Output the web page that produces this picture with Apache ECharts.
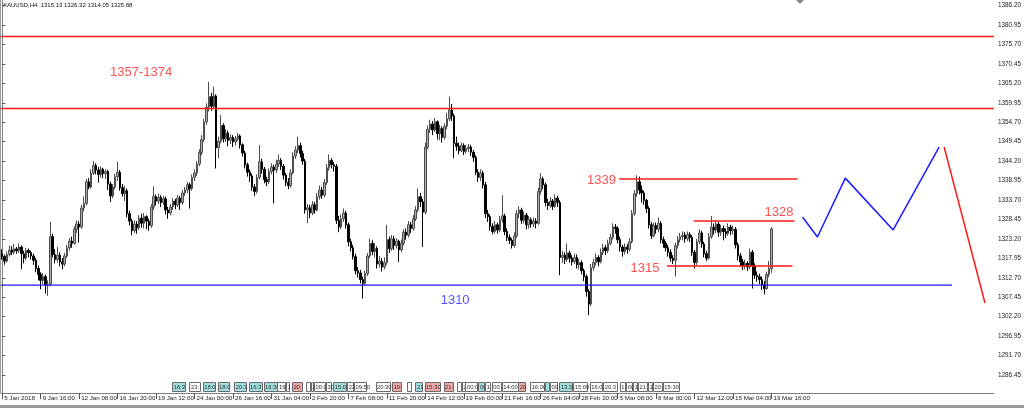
<!DOCTYPE html>
<html><head><meta charset="utf-8">
<script src="https://cdn.jsdelivr.net/npm/echarts@6/dist/echarts.min.js"></script>
<style>html,body{margin:0;padding:0;background:#fff;}#c{width:1024px;height:408px;}</style>
</head><body><div id="c"></div>
<script>
const tickLabels = ['5 Jan 2018','9 Jan 16:00','12 Jan 08:00','16 Jan 20:00','19 Jan 12:00','24 Jan 00:00','26 Jan 16:00','31 Jan 04:00','2 Feb 20:00','7 Feb 08:00','11 Feb 20:00','14 Feb 12:00','19 Feb 00:00','21 Feb 16:00','26 Feb 04:00','28 Feb 20:00','5 Mar 08:00','8 Mar 00:00','12 Mar 12:00','15 Mar 04:00','19 Mar 16:00'];
const yTicks = [1286.45,1291.70,1296.95,1302.20,1307.45,1312.70,1317.95,1323.20,1328.45,1333.70,1338.95,1344.20,1349.45,1354.70,1359.95,1365.20,1370.45,1375.70,1380.95,1386.20];
const closes = [1318.5,1317.2,1319.0,1320.2,1319.6,1320.5,1320.0,1321.0,1319.2,1318.0,
1320.1,1319.5,1318.6,1317.4,1315.2,1313.6,1312.0,1313.0,1310.8,1311.0,
1323.8,1319.0,1317.6,1318.8,1317.0,1316.4,1318.6,1320.8,1322.6,1322.0,
1325.8,1327.2,1326.4,1331.5,1332.8,1338.6,1337.2,1341.0,1343.0,1341.8,
1340.6,1342.0,1340.8,1341.4,1338.0,1334.8,1337.2,1340.0,1341.2,1337.0,
1335.4,1336.2,1330.0,1328.0,1325.4,1327.2,1326.2,1328.8,1327.4,1329.2,
1328.0,1326.8,1331.8,1334.6,1333.4,1334.4,1333.0,1334.0,1331.0,1330.2,
1331.8,1333.4,1332.4,1334.2,1333.0,1335.6,1336.4,1337.8,1336.8,1339.8,
1341.0,1343.4,1346.5,1350.0,1354.8,1358.8,1361.6,1359.0,1361.8,1347.8,
1349.6,1353.8,1350.2,1351.8,1349.8,1350.6,1349.4,1350.2,1351.0,1348.6,
1346.4,1343.2,1341.2,1340.2,1337.2,1336.0,1339.8,1344.0,1342.0,1339.2,
1338.6,1341.4,1342.6,1341.8,1343.4,1344.4,1342.8,1340.4,1338.4,1337.6,
1341.0,1345.6,1347.2,1348.4,1346.2,1344.2,1331.0,1331.6,1330.2,1332.4,
1331.0,1334.6,1336.4,1335.0,1338.4,1342.4,1344.4,1343.2,1342.8,1328.2,
1326.4,1328.6,1330.2,1327.0,1322.4,1320.8,1318.4,1314.6,1314.0,1312.2,
1311.2,1313.8,1318.6,1322.0,1319.8,1320.6,1316.4,1317.2,1315.6,1316.8,
1323.0,1320.6,1323.2,1321.4,1322.6,1320.2,1322.0,1325.0,1324.2,1327.0,
1326.0,1328.6,1331.0,1334.6,1333.2,1330.4,1348.0,1352.8,1354.2,1352.6,
1354.8,1351.6,1353.0,1350.6,1353.6,1355.6,1358.0,1356.4,1349.0,1348.2,
1347.0,1348.4,1346.8,1347.6,1348.0,1346.6,1345.2,1341.2,1339.8,1341.0,
1337.8,1330.0,1329.2,1326.6,1325.2,1327.0,1325.6,1328.4,1329.4,1325.2,
1323.6,1322.8,1321.4,1324.0,1330.0,1331.0,1328.2,1329.6,1327.0,1328.4,
1327.2,1328.0,1327.4,1336.0,1339.4,1337.8,1333.0,1332.2,1333.4,1332.0,
1334.2,1333.0,1318.2,1318.8,1317.6,1319.4,1318.0,1317.0,1318.2,1316.2,
1316.8,1314.6,1313.0,1309.0,1305.6,1315.4,1316.8,1318.2,1317.0,1319.6,
1320.8,1320.0,1322.0,1323.6,1326.4,1326.0,1323.0,1321.0,1319.8,1321.0,
1320.4,1322.4,1330.0,1335.4,1338.6,1336.4,1335.6,1333.6,1331.4,1327.0,
1324.0,1326.8,1325.8,1327.4,1323.0,1322.0,1320.8,1319.6,1318.0,1317.4,
1321.4,1323.0,1323.8,1324.2,1323.2,1324.4,1323.6,1319.6,1316.8,1322.4,
1324.8,1321.8,1319.2,1318.0,1323.8,1326.4,1325.6,1327.2,1325.0,1326.0,
1325.2,1324.6,1326.4,1325.4,1325.8,1321.6,1318.6,1317.0,1316.0,1316.6,
1315.6,1319.6,1316.0,1313.4,1313.0,1312.2,1310.8,1309.8,1313.6,1315.2,
1325.88];
const opens = [1319.2,1318.5,1317.2,1319.0,1320.2,1319.6,1320.5,1320.0,1321.0,1319.2,
1318.0,1320.1,1319.5,1318.6,1317.4,1315.2,1313.6,1312.0,1313.0,1310.8,
1311.0,1323.8,1319.0,1317.6,1318.8,1317.0,1316.4,1318.6,1320.8,1322.6,
1322.0,1325.8,1327.2,1326.4,1331.5,1332.8,1338.6,1337.2,1341.0,1343.0,
1341.8,1340.6,1342.0,1340.8,1341.4,1338.0,1334.8,1337.2,1340.0,1341.2,
1337.0,1335.4,1336.2,1330.0,1328.0,1325.4,1327.2,1326.2,1328.8,1327.4,
1329.2,1328.0,1326.8,1331.8,1334.6,1333.4,1334.4,1333.0,1334.0,1331.0,
1330.2,1331.8,1333.4,1332.4,1334.2,1333.0,1335.6,1336.4,1337.8,1336.8,
1339.8,1341.0,1343.4,1346.5,1350.0,1354.8,1358.8,1361.6,1359.0,1361.8,
1347.8,1349.6,1353.8,1350.2,1351.8,1349.8,1350.6,1349.4,1350.2,1351.0,
1348.6,1346.4,1343.2,1341.2,1340.2,1337.2,1336.0,1339.8,1344.0,1342.0,
1339.2,1338.6,1341.4,1342.6,1341.8,1343.4,1344.4,1342.8,1340.4,1338.4,
1337.6,1341.0,1345.6,1347.2,1348.4,1346.2,1344.2,1331.0,1331.6,1330.2,
1332.4,1331.0,1334.6,1336.4,1335.0,1338.4,1342.4,1344.4,1343.2,1342.8,
1328.2,1326.4,1328.6,1330.2,1327.0,1322.4,1320.8,1318.4,1314.6,1314.0,
1312.2,1311.2,1313.8,1318.6,1322.0,1319.8,1320.6,1316.4,1317.2,1315.6,
1316.8,1323.0,1320.6,1323.2,1321.4,1322.6,1320.2,1322.0,1325.0,1324.2,
1327.0,1326.0,1328.6,1331.0,1334.6,1333.2,1330.4,1348.0,1352.8,1354.2,
1352.6,1354.8,1351.6,1353.0,1350.6,1353.6,1355.6,1358.0,1356.4,1349.0,
1348.2,1347.0,1348.4,1346.8,1347.6,1348.0,1346.6,1345.2,1341.2,1339.8,
1341.0,1337.8,1330.0,1329.2,1326.6,1325.2,1327.0,1325.6,1328.4,1329.4,
1325.2,1323.6,1322.8,1321.4,1324.0,1330.0,1331.0,1328.2,1329.6,1327.0,
1328.4,1327.2,1328.0,1327.4,1336.0,1339.4,1337.8,1333.0,1332.2,1333.4,
1332.0,1334.2,1333.0,1318.2,1318.8,1317.6,1319.4,1318.0,1317.0,1318.2,
1316.2,1316.8,1314.6,1313.0,1309.0,1305.6,1315.4,1316.8,1318.2,1317.0,
1319.6,1320.8,1320.0,1322.0,1323.6,1326.4,1326.0,1323.0,1321.0,1319.8,
1321.0,1320.4,1322.4,1330.0,1335.4,1338.6,1336.4,1335.6,1333.6,1331.4,
1327.0,1324.0,1326.8,1325.8,1327.4,1323.0,1322.0,1320.8,1319.6,1318.0,
1317.4,1321.4,1323.0,1323.8,1324.2,1323.2,1324.4,1323.6,1319.6,1316.8,
1322.4,1324.8,1321.8,1319.2,1318.0,1323.8,1326.4,1325.6,1327.2,1325.0,
1326.0,1325.2,1324.6,1326.4,1325.4,1325.8,1321.6,1318.6,1317.0,1316.0,
1316.6,1315.6,1319.6,1316.0,1313.4,1313.0,1312.2,1310.8,1309.8,1313.6,
1315.13];
const lows = [1317.6,1316.2,1316.8,1318.4,1318.8,1319.0,1319.2,1319.4,1315.0,1316.6,
1317.4,1318.2,1317.6,1316.2,1314.2,1312.0,1309.6,1311.0,1308.4,1307.8,
1310.4,1318.2,1316.6,1316.8,1315.8,1315.0,1315.8,1318.0,1320.0,1320.8,
1321.6,1324.8,1322.2,1326.0,1330.6,1332.2,1336.6,1336.8,1340.4,1340.6,
1338.4,1339.8,1339.6,1339.4,1336.4,1333.2,1334.2,1336.6,1338.8,1336.2,
1334.6,1333.4,1329.0,1326.8,1324.2,1324.8,1324.6,1325.6,1326.2,1326.0,
1325.8,1325.4,1326.2,1331.0,1332.2,1332.6,1331.8,1332.4,1329.8,1328.6,
1329.6,1331.0,1331.2,1331.8,1331.0,1332.4,1334.8,1335.6,1331.4,1336.2,
1338.8,1340.2,1342.8,1345.8,1349.4,1354.0,1357.6,1357.8,1358.4,1342.2,
1345.0,1349.0,1349.2,1349.4,1348.2,1348.8,1348.0,1348.4,1349.6,1347.6,
1345.4,1342.2,1340.0,1338.6,1336.2,1334.8,1335.4,1339.2,1340.8,1338.2,
1337.4,1338.0,1340.6,1332.8,1341.0,1342.6,1341.8,1339.2,1337.4,1336.6,
1337.0,1340.6,1344.8,1346.4,1345.2,1343.2,1330.0,1327.4,1328.8,1329.6,
1330.0,1330.6,1333.8,1334.0,1334.4,1337.8,1341.6,1342.2,1341.4,1327.2,
1325.0,1325.8,1327.8,1326.0,1321.2,1319.8,1317.6,1313.6,1312.8,1311.2,
1307.1,1310.6,1313.2,1318.0,1318.8,1318.2,1315.2,1315.4,1314.4,1315.0,
1316.2,1319.4,1320.0,1320.2,1320.6,1317.0,1319.6,1321.4,1323.0,1323.6,
1324.8,1325.4,1328.0,1330.4,1331.8,1321.0,1329.8,1347.4,1351.8,1351.2,
1352.0,1350.0,1349.8,1349.2,1350.0,1352.8,1355.0,1355.0,1345.0,1347.0,
1346.0,1346.6,1345.8,1346.2,1346.6,1345.6,1344.0,1340.4,1338.6,1338.8,
1336.8,1328.8,1327.8,1325.4,1324.4,1324.6,1324.6,1325.0,1327.6,1324.2,
1322.6,1321.8,1320.6,1320.8,1323.4,1328.8,1327.2,1327.4,1325.8,1326.0,
1326.2,1326.4,1326.0,1327.0,1335.2,1336.6,1332.0,1331.0,1331.6,1331.0,
1331.6,1331.8,1313.4,1316.8,1316.4,1317.0,1316.8,1316.0,1316.4,1315.2,
1315.0,1313.6,1311.8,1307.6,1302.6,1305.0,1314.6,1316.0,1315.8,1316.6,
1318.8,1318.8,1319.4,1321.4,1323.0,1324.6,1322.0,1319.8,1318.4,1319.0,
1319.2,1319.8,1322.0,1329.4,1334.6,1335.2,1333.0,1332.4,1330.2,1326.0,
1323.2,1323.6,1324.6,1325.0,1322.0,1320.8,1319.8,1318.4,1317.0,1316.4,
1313.0,1320.6,1322.2,1322.8,1322.2,1322.6,1322.4,1318.6,1315.2,1316.2,
1321.8,1320.8,1318.2,1317.2,1317.6,1323.2,1324.4,1324.8,1323.8,1324.0,
1322.8,1323.4,1324.0,1324.2,1324.4,1320.6,1317.4,1315.8,1314.8,1315.0,
1314.6,1315.0,1309.8,1312.4,1311.6,1311.0,1309.4,1308.2,1309.4,1312.8,
1314.05];
const highs = [1320.4,1319.0,1319.8,1321.4,1321.2,1321.8,1321.0,1322.0,1321.4,1320.0,
1320.8,1320.6,1320.0,1319.2,1318.0,1316.0,1314.2,1314.0,1313.6,1312.0,
1327.8,1324.6,1320.4,1321.0,1319.6,1318.0,1319.4,1321.6,1323.4,1323.8,
1326.6,1328.2,1328.0,1332.4,1334.6,1339.4,1339.6,1342.0,1344.2,1343.6,
1342.6,1342.8,1342.4,1342.0,1341.8,1338.6,1338.0,1340.8,1344.0,1341.8,
1338.0,1337.6,1336.8,1330.8,1328.6,1328.2,1328.0,1329.6,1330.0,1330.2,
1329.6,1328.6,1332.6,1337.4,1335.2,1335.4,1335.0,1334.8,1334.6,1331.8,
1332.6,1334.2,1334.0,1335.0,1334.8,1336.4,1337.2,1338.6,1338.4,1340.6,
1342.0,1344.2,1347.4,1351.2,1355.6,1359.8,1365.6,1362.6,1364.3,1362.2,
1350.8,1356.6,1354.4,1352.8,1352.4,1351.4,1351.2,1351.0,1351.8,1351.4,
1349.0,1347.0,1343.8,1342.0,1340.8,1338.0,1340.6,1348.5,1344.8,1342.6,
1340.0,1342.2,1343.6,1343.2,1344.6,1346.0,1345.0,1343.4,1341.0,1339.6,
1342.0,1346.6,1348.2,1350.8,1349.2,1347.0,1344.8,1332.6,1332.4,1333.4,
1333.2,1335.6,1337.6,1337.2,1339.4,1343.4,1346.0,1345.0,1344.0,1343.4,
1329.4,1329.8,1331.4,1330.8,1327.6,1323.2,1321.6,1319.2,1315.6,1314.8,
1313.0,1314.6,1319.4,1323.2,1322.8,1322.0,1321.2,1318.6,1318.0,1318.2,
1327.0,1323.8,1324.2,1324.0,1323.4,1323.0,1323.0,1325.8,1326.0,1328.0,
1327.8,1329.6,1332.0,1336.8,1335.6,1334.0,1349.2,1353.8,1355.4,1355.0,
1355.8,1355.2,1354.0,1353.6,1354.4,1357.2,1361.6,1359.6,1357.0,1350.8,
1349.2,1349.2,1349.0,1348.6,1348.8,1348.6,1347.2,1345.8,1342.0,1342.0,
1341.6,1338.6,1331.0,1329.8,1327.4,1328.0,1327.6,1329.4,1335.0,1330.0,
1326.0,1324.4,1323.4,1325.0,1331.0,1332.0,1331.6,1330.6,1330.2,1329.4,
1329.0,1329.0,1328.8,1337.0,1341.0,1340.0,1338.4,1334.0,1334.4,1334.0,
1335.2,1334.8,1333.6,1320.0,1319.6,1322.0,1320.0,1318.8,1319.2,1319.0,
1317.8,1317.4,1315.2,1313.6,1309.6,1316.4,1317.8,1319.2,1318.8,1320.6,
1321.8,1321.6,1323.0,1324.6,1327.4,1327.2,1326.6,1323.8,1321.6,1322.0,
1321.8,1323.4,1331.0,1336.4,1340.4,1340.0,1337.6,1336.2,1334.0,1332.0,
1327.8,1327.6,1327.6,1329.0,1328.0,1323.8,1322.6,1321.6,1320.4,1318.8,
1322.2,1324.0,1324.8,1325.2,1325.0,1325.2,1325.0,1324.2,1320.2,1323.2,
1325.8,1325.4,1322.4,1320.0,1324.8,1329.4,1327.4,1328.2,1327.8,1327.0,
1326.8,1326.0,1327.4,1327.0,1326.8,1326.4,1322.2,1319.4,1317.8,1317.6,
1317.2,1320.6,1320.2,1316.6,1314.4,1313.8,1313.0,1311.8,1314.4,1317.2,
1326.32];
// drawn levels and annotations (bar index, price)
const levelsFull = [1377.97, 1358.6];
const supportLine = [[-0.5, 1310.7], [395.1, 1310.7]];
const line1339 = [[256.6, 1339.36], [330.8, 1339.36]];
const line1328 = [[287.7, 1328.03], [329.6, 1328.03]];
const line1315 = [[276.5, 1315.88], [328.7, 1315.88]];
const zigzagBlue = [[332.9, 1329.1], [339.1, 1323.7], [350.7, 1339.6], [370.6, 1325.6], [389.7, 1348.0]];
const zigzagRed = [[391.8, 1348.0], [408.8, 1305.9]];
const redTexts = [[57.8, 1368.25, '1357-1374'], [249.3, 1339.1, '1339'], [323.1, 1330.45, '1328'], [267.4, 1315.3, '1315']];
const blueTexts = [[188.4, 1306.7, '1310']];
const events = [
 [70.7,76.5,'16:3','c'],[77.9,82.7,'23:','w'],[83.4,88.9,'18:0','c'],[89.6,94.7,'18:0','c'],[96.5,102.0,'20:3','c'],
 [102.5,108.3,'16:3','c'],[108.7,114.5,'16:30','c'],[114.5,118.2,'19:0','w'],[118.2,120.0,'1','w'],[120.5,124.9,'20:','p'],
 [126.3,128.3,'','w'],[128.3,129.7,'2','w'],[129.7,134.7,'00:00','w'],[134.7,137.3,'30','w'],[137.7,143.5,'15:01','c'],
 [143.5,146.3,'22','w'],[146.3,151.8,'09:50','w'],[155.3,161.5,'20:30','w'],[162.2,166.3,'19:','p'],[168.4,170.5,'','w'],
 [171.9,175.3,'21:','c'],[175.7,182.2,'15:30','p'],[183.6,187.7,'21:','p'],[189.1,191.2,'','w'],[191.2,192.7,'2','w'],
 [192.7,198.1,'00:00','w'],[198.1,200.9,'00','c'],[200.9,203.6,'1','w'],[203.6,207.8,'00','w'],[207.8,214.7,'14:00','w'],
 [214.7,218.0,'20:','p'],[219.6,225.8,'16:00','w'],[225.8,227.9,'','c'],[227.9,231.3,'00','w'],[231.7,237.5,'13:30','c'],
 [237.5,243.7,'15:00','w'],[244.4,250.0,'16:00','w'],[250.0,256.2,'20:3','w'],[256.9,259.6,'1','w'],[259.6,262.4,'00','w'],
 [262.4,264.5,'1','w'],[264.5,268.6,'21:','w'],[268.6,270.7,'1','w'],[270.7,274.8,'20:','w'],[274.8,281.8,'15:30','w']
];

const N = 413;
const cats = [];
for (let i = 0; i < N; i++) cats.push(String(i));
const labelAt = {};
const tickIdx = [];
tickLabels.forEach((t, k) => { labelAt[k * 16] = t; tickIdx.push(k * 16); });
const candles = closes.map((c, i) => [opens[i], c, lows[i], highs[i]]);
const FONT = 'Liberation Sans';
const evFill = { c: '#9fdede', w: '#ffffff', p: '#f2a6a6' };

const chart = echarts.init(document.getElementById('c'), null, { renderer: 'canvas' });
chart.setOption({
  animation: false,
  backgroundColor: '#ffffff',
  grid: { left: 1, right: 27, top: 0, bottom: 15, containLabel: false },
  xAxis: [
    { type: 'category', data: cats, boundaryGap: true,
      axisLine: { show: true, lineStyle: { color: '#808080', width: 1 } },
      axisTick: { show: false }, axisLabel: { show: false }, splitLine: { show: false } },
    { type: 'value', min: -0.5, max: N - 0.5, position: 'bottom',
      axisLine: { show: false },
      axisTick: { show: true, length: 6, customValues: tickIdx, lineStyle: { color: '#555' } },
      axisLabel: { show: true, customValues: tickIdx, formatter: (v) => labelAt[Math.round(v)] || '',
        align: 'left', padding: [0, 0, 0, 2], margin: 2, fontSize: 6.2, color: '#222', fontFamily: FONT },
      splitLine: { show: false } }
  ],
  yAxis: { type: 'value', position: 'right', min: 1281.59, max: 1387.69, scale: true,
    axisLine: { show: true, lineStyle: { color: '#808080' } },
    axisTick: { show: true, length: 3, customValues: yTicks, lineStyle: { color: '#555' } },
    axisLabel: { show: true, customValues: yTicks, formatter: (v) => v.toFixed(2), fontSize: 6.4, color: '#222', margin: 4, fontFamily: FONT },
    splitLine: { show: false } },
  series: [
    { type: 'candlestick', xAxisIndex: 0, data: candles, barWidth: 2,
      itemStyle: { color: '#a8a8a8', color0: '#000000', borderColor: '#4e4e4e', borderColor0: '#000000', borderWidth: 1 },
      markLine: { silent: true, symbol: 'none', label: { show: false },
        lineStyle: { color: '#ff1a1a', width: 1.3, type: 'solid' },
        data: levelsFull.map(v => ({ yAxis: v })) } },
    { type: 'line', xAxisIndex: 1, data: supportLine, symbol: 'none', lineStyle: { color: '#1a1aff', width: 1.3 }, z: 3 },
    { type: 'line', xAxisIndex: 1, data: line1339, symbol: 'none', lineStyle: { color: '#ff1a1a', width: 1.3 }, z: 3 },
    { type: 'line', xAxisIndex: 1, data: line1328, symbol: 'none', lineStyle: { color: '#ff1a1a', width: 1.3 }, z: 3 },
    { type: 'line', xAxisIndex: 1, data: line1315, symbol: 'none', lineStyle: { color: '#ff1a1a', width: 1.3 }, z: 3 },
    { type: 'line', xAxisIndex: 1, data: zigzagBlue, symbol: 'none', lineStyle: { color: '#1a1aff', width: 1.5 }, z: 3 },
    { type: 'line', xAxisIndex: 1, data: zigzagRed, symbol: 'none', lineStyle: { color: '#ff1a1a', width: 1.5 }, z: 3 },
    { type: 'scatter', xAxisIndex: 1, data: redTexts, symbolSize: 1, itemStyle: { color: 'rgba(0,0,0,0)' },
      label: { show: true, position: 'inside', formatter: (p) => p.data[2], color: '#ff2424', fontSize: 13, fontFamily: FONT }, z: 4 },
    { type: 'scatter', xAxisIndex: 1, data: blueTexts, symbolSize: 1, itemStyle: { color: 'rgba(0,0,0,0)' },
      label: { show: true, position: 'inside', formatter: (p) => p.data[2], color: '#2424ff', fontSize: 13, fontFamily: FONT }, z: 4 },
    { type: 'custom', xAxisIndex: 1, data: events.map(e => [e[0], e[1], 1300]), encode: { x: [0, 1], y: 2 }, z: 5, clip: false,
      renderItem: (params, api) => {
        const ev = events[params.dataIndex];
        const xa = api.coord([api.value(0), 1300])[0];
        const xb = api.coord([api.value(1), 1300])[0];
        const cs = params.coordSys;
        const yb = cs.y + cs.height - 1;
        const h = 10;
        return { type: 'group', children: [
          { type: 'rect', shape: { x: Math.round(xa) + 0.5, y: yb - h + 0.5, width: Math.max(1, Math.round(xb - xa) - 1), height: h - 1 },
            style: { fill: evFill[ev[3]], stroke: '#6b6b6b', lineWidth: 1 } },
          { type: 'text', style: { text: ev[2], x: xa + 1.5, y: yb - h / 2, verticalAlign: 'middle', fontSize: 5.8, fontFamily: FONT, fill: '#333' } }
        ] };
      } }
  ],
  graphic: [
    { type: 'text', left: 3, top: 2, style: { text: 'XAUUSD,H4  1315.13 1326.32 1314.05 1325.88', fontSize: 6, fontFamily: FONT, fill: '#111' } },
    { type: 'line', shape: { x1: 0.5, y1: 0, x2: 0.5, y2: 393 }, style: { stroke: '#9a9a9a', lineWidth: 1 } },
    { type: 'polygon', shape: { points: [[796, 0], [804, 0], [800, 4]] }, style: { fill: '#8a8a8a' } },
    { type: 'rect', shape: { x: 0, y: 405, width: 1024, height: 3 }, style: { fill: '#9a9a9a' } }
  ]
});
</script></body></html>
